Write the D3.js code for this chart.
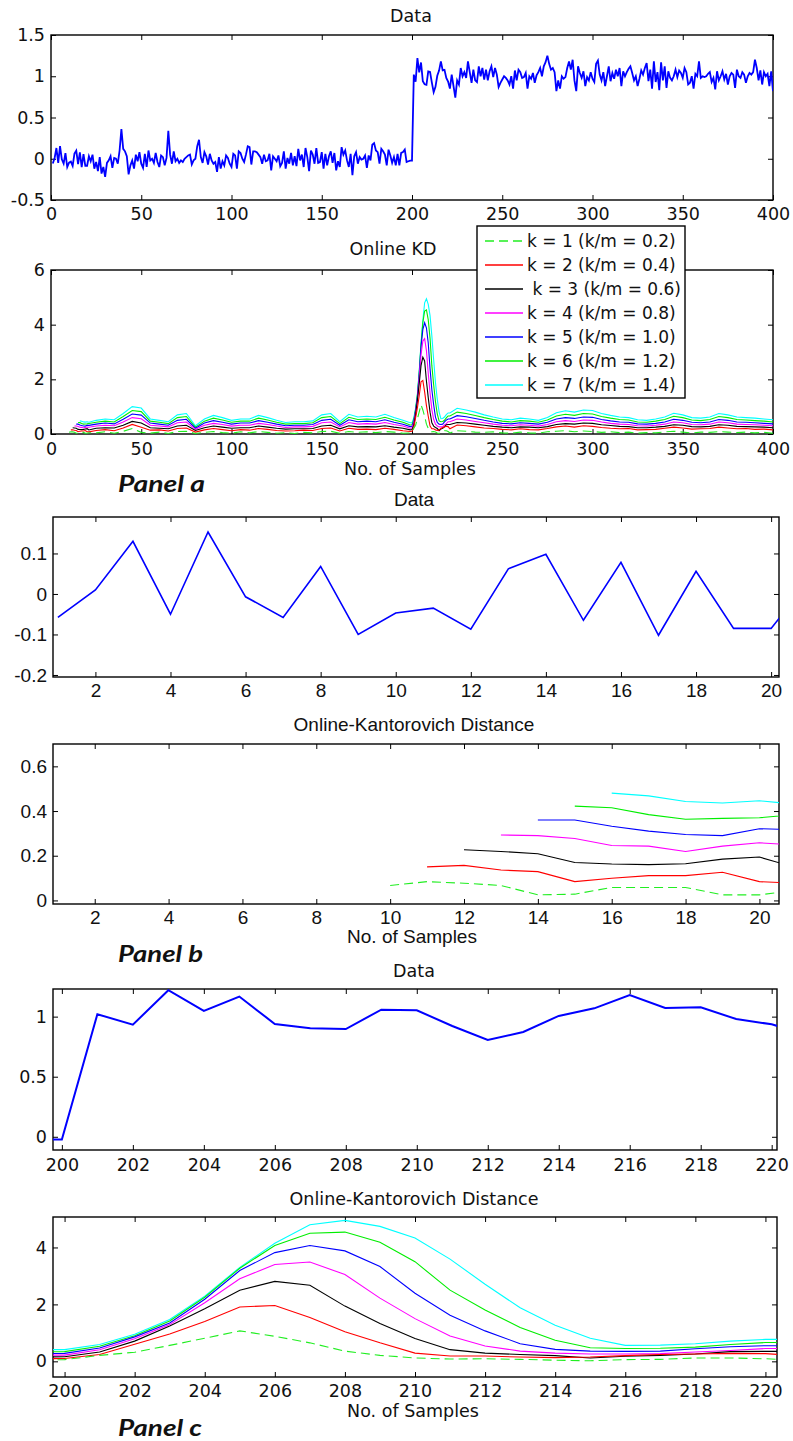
<!DOCTYPE html>
<html>
<head>
<meta charset="utf-8">
<script src="https://cdn.jsdelivr.net/npm/d3@7"></script>
<style>
  body { margin: 0; background: #fff; }
</style>
</head>
<body>
<svg id="svg" width="793" height="1441"></svg>
<script>
// ---------- data ----------
// raw signal, samples 1..21 (zoomed in panel b)
const dataHead = [-0.058,0.010,0.130,-0.050,0.153,-0.007,-0.058,0.068,-0.100,-0.047,-0.035,-0.087,0.062,0.098,-0.065,0.078,-0.102,0.056,-0.085,-0.085,0.032];
// samples 22..198
const dataQuiet = [
  -0.03,0.05,-0.12,-0.04,-0.15,0.02,-0.18,-0.10,-0.22,-0.05,
  -0.02,0.03,-0.11,0.01,0.00,-0.06,0.10,0.36,0.12,0.09,
  0.03,-0.19,-0.08,-0.02,-0.12,0.05,-0.03,0.08,-0.06,-0.11,
  0.06,-0.10,0.10,-0.02,0.00,-0.05,0.07,-0.04,-0.10,0.04,
  0.02,-0.08,0.01,0.34,0.05,-0.06,0.09,-0.03,0.00,-0.05,
  -0.02,-0.04,0.00,0.02,0.04,0.05,-0.07,-0.02,0.00,0.15,
  0.23,0.02,-0.05,0.08,0.03,-0.07,0.06,-0.02,-0.06,-0.04,
  -0.16,0.02,-0.12,-0.03,-0.08,0.04,0.01,-0.06,-0.10,0.06,
  0.04,-0.12,0.09,0.07,0.00,-0.04,0.05,0.15,0.14,-0.07,
  0.09,0.09,0.08,0.05,0.02,-0.06,0.05,-0.03,-0.02,0.06,
  -0.14,0.03,0.00,-0.03,0.04,-0.09,-0.05,0.09,-0.12,0.01,
  -0.06,0.07,-0.08,0.03,-0.09,0.12,-0.02,0.05,-0.10,0.13,
  0.02,-0.15,0.10,0.05,-0.06,0.13,-0.05,-0.04,0.08,-0.12,
  0.06,-0.08,0.03,0.09,-0.05,0.07,-0.14,-0.03,-0.10,0.14,
  0.05,0.10,-0.02,-0.10,0.06,-0.20,0.03,0.08,-0.06,0.02,
  -0.01,0.00,0.04,-0.11,0.04,-0.02,0.17,0.19,0.10,0.08,
  -0.06,0.12,0.09,0.05,-0.08,0.11,0.04,-0.05,0.02,-0.08,
  0.06,-0.08,0.07,0.08,0.11,-0.04,-0.03
];
// samples 199..221 (zoomed in panel c)
const dataJump = [-0.022,-0.022,1.02,0.933,1.22,1.047,1.167,0.939,0.903,0.897,1.058,1.053,0.922,0.806,0.872,1.006,1.069,1.18,1.072,1.078,0.98,0.936,0.85];
// samples 222..400
const dataHigh = [
  1.02,0.88,0.74,0.95,0.90,1.10,1.00,1.05,0.98,1.18,
  1.05,0.92,1.08,0.95,0.93,1.12,1.00,1.10,0.96,1.08,
  0.95,1.06,1.12,0.99,1.10,1.02,0.87,0.92,0.96,1.00,
  0.98,0.95,0.90,1.00,0.85,1.07,0.95,1.08,1.05,0.98,
  0.99,1.04,0.85,1.00,0.97,1.04,0.92,1.01,1.05,1.10,
  1.00,1.12,1.17,1.25,1.15,1.08,1.10,1.05,0.82,0.95,
  0.85,1.00,0.97,0.99,1.10,1.18,1.08,1.20,0.95,0.82,
  1.12,1.04,0.98,1.06,0.88,0.99,0.95,1.05,0.97,0.93,
  1.15,1.19,1.02,0.95,1.05,0.88,1.00,1.12,0.94,1.04,
  0.97,1.08,1.00,1.10,0.88,1.06,1.00,1.05,1.09,1.12,
  1.04,0.95,1.00,0.88,0.97,1.07,1.02,1.10,1.16,0.94,
  1.08,0.85,1.18,0.93,1.05,0.83,1.17,0.95,1.12,0.86,
  1.06,0.98,0.95,1.00,1.08,0.99,1.07,1.04,0.98,1.10,
  1.05,0.90,0.92,1.00,0.85,1.03,1.00,1.18,0.98,1.00,
  0.99,1.00,1.03,1.05,0.93,0.98,0.84,1.06,0.95,1.00,
  1.06,0.96,1.03,0.90,1.00,1.04,1.02,0.86,1.08,1.00,
  0.98,1.05,1.02,0.92,1.00,1.04,1.02,1.05,1.20,1.10,
  0.95,1.07,0.90,1.05,1.00,1.03,0.88,1.06,0.82
];

const kLabels = ['k = 1 (k/m = 0.2)','k = 2 (k/m = 0.4)',' k = 3 (k/m = 0.6)','k = 4 (k/m = 0.8)','k = 5 (k/m = 1.0)','k = 6 (k/m = 1.2)','k = 7 (k/m = 1.4)'];
const kColors = ['#22ee22','#ff0000','#000000','#ff00ff','#0000ff','#00ee00','#00ffff'];
const kDashes = ['9,5',null,null,null,null,null,null];

// Online KD, samples 10..21
const kdEarlyX = d3.range(10, 22);
const kdEarly = [
  [0.067,0.084,0.077,0.067,0.025,0.028,0.058,0.058,0.058,0.025,0.025,0.046],
  [null,0.150,0.157,0.136,0.129,0.084,0.099,0.111,0.111,0.126,0.084,0.077],
  [null,null,0.227,0.219,0.209,0.170,0.163,0.160,0.164,0.185,0.194,0.146],
  [null,null,null,0.293,0.290,0.277,0.246,0.243,0.219,0.243,0.258,0.248],
  [null,null,null,null,0.360,0.360,0.332,0.310,0.295,0.290,0.321,0.316],
  [null,null,null,null,null,0.422,0.415,0.384,0.363,0.367,0.370,0.385],
  [null,null,null,null,null,null,0.480,0.468,0.443,0.436,0.446,0.430]
];
// samples 25..195 every 5
const kdMidX = d3.range(25, 196, 5);
const kdMid = [
  [0.04,0.08,0.03,0.10,0.20,0.06,0.03,0.07,0.02,0.09,0.10,0.02,0.06,0.09,0.05,0.03,0.08,0.04,0.09,0.06,0.03,0.05,0.02,0.06,0.04,0.09,0.10,0.03,0.09,0.06,0.08,0.05,0.09,0.07,0.03],
  [0.13,0.16,0.12,0.22,0.35,0.25,0.14,0.15,0.11,0.20,0.22,0.07,0.15,0.20,0.16,0.12,0.16,0.14,0.20,0.17,0.13,0.11,0.12,0.14,0.13,0.20,0.22,0.11,0.21,0.17,0.18,0.16,0.21,0.17,0.12],
  [0.21,0.23,0.22,0.32,0.46,0.40,0.23,0.21,0.19,0.29,0.32,0.13,0.23,0.29,0.25,0.21,0.23,0.23,0.29,0.25,0.21,0.18,0.19,0.19,0.20,0.29,0.32,0.19,0.30,0.26,0.27,0.26,0.30,0.25,0.21],
  [0.29,0.32,0.30,0.44,0.60,0.56,0.32,0.29,0.26,0.41,0.44,0.17,0.32,0.39,0.35,0.29,0.32,0.32,0.39,0.35,0.29,0.24,0.26,0.26,0.28,0.41,0.44,0.26,0.42,0.36,0.38,0.36,0.42,0.35,0.29],
  [0.36,0.40,0.37,0.54,0.73,0.69,0.40,0.36,0.32,0.50,0.54,0.21,0.40,0.49,0.43,0.36,0.40,0.40,0.49,0.43,0.36,0.30,0.32,0.32,0.35,0.50,0.54,0.32,0.52,0.45,0.47,0.45,0.52,0.43,0.36],
  [0.43,0.47,0.44,0.64,0.86,0.82,0.47,0.43,0.38,0.60,0.64,0.25,0.47,0.58,0.51,0.43,0.47,0.47,0.58,0.51,0.43,0.36,0.38,0.38,0.41,0.60,0.64,0.38,0.61,0.53,0.55,0.53,0.61,0.51,0.43],
  [0.50,0.55,0.52,0.75,1.00,0.95,0.55,0.50,0.45,0.70,0.75,0.30,0.55,0.68,0.60,0.50,0.55,0.55,0.68,0.60,0.50,0.42,0.45,0.45,0.48,0.70,0.75,0.45,0.72,0.62,0.65,0.62,0.72,0.60,0.50]
];
// samples 199..221
const kdPeakX = d3.range(199, 222);
const kdPeak = [
  [0.04,0.06,0.21,0.32,0.56,0.81,1.07,0.88,0.65,0.36,0.21,0.12,0.08,0.09,0.07,0.04,0.02,0.06,0.07,0.12,0.12,0.09,0.04],
  [0.09,0.10,0.24,0.60,0.96,1.40,1.91,1.96,1.54,1.04,0.65,0.29,0.19,0.19,0.15,0.13,0.15,0.20,0.24,0.26,0.28,0.27,0.19],
  [0.15,0.16,0.33,0.71,1.24,1.85,2.50,2.81,2.67,1.94,1.33,0.80,0.41,0.29,0.24,0.20,0.12,0.18,0.21,0.26,0.34,0.35,0.35],
  [0.21,0.22,0.41,0.79,1.29,2.06,2.90,3.40,3.49,3.05,2.22,1.50,0.89,0.54,0.36,0.29,0.26,0.26,0.27,0.33,0.38,0.45,0.45],
  [0.27,0.28,0.47,0.86,1.35,2.18,3.19,3.82,4.07,3.88,3.33,2.39,1.62,1.07,0.62,0.42,0.36,0.35,0.36,0.44,0.51,0.55,0.55],
  [0.33,0.34,0.53,0.90,1.42,2.25,3.27,4.07,4.50,4.54,4.18,3.50,2.50,1.80,1.19,0.74,0.48,0.45,0.46,0.50,0.59,0.66,0.66],
  [0.41,0.41,0.59,0.95,1.47,2.29,3.30,4.15,4.80,4.95,4.74,4.33,3.59,2.71,1.88,1.27,0.81,0.56,0.57,0.62,0.71,0.77,0.77]
];
// samples 225..400 every 5
const kdLateX = d3.range(225, 401, 5);
const kdLate = [
  [0.12,0.10,0.07,0.06,0.08,0.04,0.03,0.07,0.04,0.03,0.08,0.10,0.12,0.08,0.11,0.09,0.06,0.08,0.05,0.07,0.03,0.05,0.04,0.08,0.10,0.07,0.04,0.07,0.06,0.09,0.07,0.05,0.07,0.04,0.06,0.03],
  [0.33,0.30,0.26,0.22,0.20,0.17,0.15,0.19,0.16,0.15,0.20,0.26,0.29,0.25,0.30,0.28,0.24,0.21,0.19,0.20,0.15,0.16,0.17,0.21,0.25,0.22,0.18,0.19,0.20,0.25,0.22,0.19,0.20,0.17,0.18,0.15],
  [0.42,0.40,0.36,0.32,0.28,0.25,0.23,0.26,0.25,0.23,0.27,0.35,0.38,0.36,0.40,0.39,0.34,0.31,0.28,0.27,0.23,0.23,0.25,0.28,0.34,0.32,0.27,0.26,0.28,0.34,0.32,0.28,0.27,0.26,0.25,0.23],
  [0.55,0.51,0.46,0.41,0.36,0.32,0.30,0.34,0.32,0.29,0.35,0.45,0.49,0.46,0.51,0.50,0.44,0.39,0.36,0.35,0.30,0.29,0.32,0.36,0.44,0.41,0.35,0.34,0.36,0.44,0.41,0.36,0.35,0.34,0.32,0.30],
  [0.67,0.63,0.57,0.50,0.44,0.39,0.37,0.41,0.39,0.36,0.43,0.55,0.60,0.57,0.62,0.61,0.53,0.48,0.44,0.43,0.37,0.36,0.39,0.44,0.54,0.50,0.43,0.41,0.44,0.53,0.50,0.44,0.43,0.41,0.39,0.37],
  [0.80,0.75,0.68,0.60,0.53,0.47,0.44,0.49,0.47,0.43,0.51,0.66,0.72,0.68,0.75,0.73,0.64,0.58,0.53,0.51,0.44,0.43,0.47,0.53,0.65,0.60,0.51,0.49,0.53,0.64,0.60,0.53,0.51,0.49,0.47,0.44],
  [0.94,0.88,0.80,0.70,0.62,0.55,0.52,0.58,0.55,0.50,0.60,0.78,0.85,0.80,0.88,0.86,0.75,0.68,0.62,0.60,0.52,0.50,0.55,0.62,0.76,0.70,0.60,0.58,0.62,0.75,0.70,0.62,0.60,0.58,0.55,0.52]
];

// ---------- helpers ----------
const svg = d3.select('#svg');
const wide = 'DejaVu Sans';
const narrow = '"Liberation Sans", sans-serif';
const fmt = d => String(d);

function pts(xs, vs) {
  return xs.map((x, i) => ({x: x, v: vs[i]}));
}

function panel(p) {
  const x = d3.scaleLinear().domain(p.xd).range([p.x0, p.x1]);
  const y = d3.scaleLinear().domain(p.yd).range([p.y1, p.y0]);
  const g = svg.append('g');

  svg.append('clipPath').attr('id', 'clip' + p.id)
    .append('rect')
    .attr('x', p.x0).attr('y', p.y0)
    .attr('width', p.x1 - p.x0).attr('height', p.y1 - p.y0);

  const bottom = g.append('g')
    .attr('transform', `translate(0,${p.y1})`)
    .call(d3.axisBottom(x).tickValues(p.xt).tickSize(-5).tickSizeOuter(0).tickFormat(fmt));
  bottom.selectAll('text').attr('dy', null).attr('y', p.xlabY - p.y1);

  g.append('g')
    .attr('transform', `translate(0,${p.y0})`)
    .call(d3.axisTop(x).tickValues(p.xt).tickSize(-5).tickSizeOuter(0).tickFormat(''));

  g.append('g')
    .attr('transform', `translate(${p.x0},0)`)
    .call(d3.axisLeft(y).tickValues(p.yt).tickSize(-5).tickSizeOuter(0).tickPadding(6).tickFormat(fmt));

  g.append('g')
    .attr('transform', `translate(${p.x1},0)`)
    .call(d3.axisRight(y).tickValues(p.yt).tickSize(-5).tickSizeOuter(0).tickFormat(''));

  g.selectAll('.domain').remove();
  g.selectAll('.tick line').attr('stroke', '#000').attr('stroke-width', 1);
  g.selectAll('text')
    .attr('font-family', p.font)
    .attr('font-size', p.fs)
    .attr('fill', '#111');

  g.append('rect')
    .attr('x', p.x0).attr('y', p.y0)
    .attr('width', p.x1 - p.x0).attr('height', p.y1 - p.y0)
    .attr('fill', 'none').attr('stroke', '#000').attr('stroke-width', 1.4);

  svg.append('text')
    .attr('x', p.titleX).attr('y', p.titleY)
    .attr('text-anchor', 'middle')
    .attr('font-family', p.font).attr('font-size', p.tfs)
    .attr('fill', '#111')
    .text(p.title);

  if (p.xlabel) {
    svg.append('text')
      .attr('x', p.xlabelX).attr('y', p.xlabelY)
      .attr('text-anchor', 'middle')
      .attr('font-family', p.font).attr('font-size', p.tfs)
      .attr('fill', '#111')
      .text(p.xlabel);
  }

  const lines = svg.append('g').attr('clip-path', `url(#clip${p.id})`);
  const line = d3.line()
    .defined(d => d.v !== null)
    .x(d => x(d.x))
    .y(d => y(d.v));
  return {x, y, lines, line};
}

function kdLines(ax, seriesList) {
  // draw k = 7 first so the lower curves stay on top like the original
  d3.range(6, -1, -1).forEach(k => {
    ax.lines.append('path')
      .datum(seriesList[k])
      .attr('fill', 'none')
      .attr('stroke', kColors[k])
      .attr('stroke-width', 1.1)
      .attr('stroke-dasharray', kDashes[k])
      .attr('d', ax.line);
  });
}

function panelTag(txt, yBase, len) {
  svg.append('text')
    .attr('x', 118).attr('y', yBase)
    .attr('font-family', 'Lato')
    .attr('font-weight', 700)
    .attr('font-style', 'italic')
    .attr('font-size', 23)
    .attr('textLength', len)
    .attr('lengthAdjust', 'spacingAndGlyphs')
    .attr('fill', '#111')
    .text(txt);
}

// ---------- panel a ----------
const dataAll = dataHead.concat(dataQuiet, dataJump, dataHigh);
const dataX = d3.range(1, dataAll.length + 1);

const a1 = panel({
  id: 'a1', x0: 51, x1: 773, y0: 35, y1: 200,
  xd: [0, 400], yd: [-0.5, 1.5],
  xt: d3.range(0, 401, 50), yt: [-0.5, 0, 0.5, 1, 1.5],
  font: wide, fs: 17.5, tfs: 17.5, xlabY: 219.5,
  title: 'Data', titleX: 411, titleY: 21.5
});
a1.lines.append('path')
  .datum(pts(dataX, dataAll))
  .attr('fill', 'none').attr('stroke', '#0000ff').attr('stroke-width', 1.8)
  .attr('d', a1.line);

const a2 = panel({
  id: 'a2', x0: 51, x1: 773, y0: 270, y1: 434,
  xd: [0, 400], yd: [0, 6],
  xt: d3.range(0, 401, 50), yt: [0, 2, 4, 6],
  font: wide, fs: 17.5, tfs: 17.5, xlabY: 455,
  title: 'Online KD', titleX: 393, titleY: 255,
  xlabel: 'No. of Samples', xlabelX: 410, xlabelY: 475
});
const kdX = kdEarlyX.concat(kdMidX, kdPeakX, kdLateX);
kdLines(a2, d3.range(7).map(k => pts(kdX, kdEarly[k].concat(kdMid[k], kdPeak[k], kdLate[k]))));
panelTag('Panel a', 492, 87);

// legend
const leg = svg.append('g');
leg.append('rect')
  .attr('x', 477).attr('y', 226).attr('width', 208).attr('height', 172)
  .attr('fill', '#fff').attr('stroke', '#000').attr('stroke-width', 1.4);
kLabels.forEach((lab, k) => {
  const ly = 241 + k * 24;
  leg.append('line')
    .attr('x1', 485).attr('x2', 523).attr('y1', ly).attr('y2', ly)
    .attr('stroke', kColors[k]).attr('stroke-width', 1.3)
    .attr('stroke-dasharray', kDashes[k]);
  leg.append('text')
    .attr('x', 527).attr('y', ly + 6)
    .attr('font-family', wide).attr('font-size', 17)
    .attr('fill', '#111')
    .style('white-space', 'pre')
    .text(lab);
});

// ---------- panel b ----------
const b1 = panel({
  id: 'b1', x0: 53, x1: 779, y0: 517, y1: 677,
  xd: [0.87, 20.21], yd: [-0.205, 0.19],
  xt: d3.range(2, 21, 2), yt: [-0.2, -0.1, 0, 0.1],
  font: narrow, fs: 19, tfs: 19, xlabY: 697,
  title: 'Data', titleX: 414, titleY: 506
});
b1.lines.append('path')
  .datum(pts(d3.range(1, 22), dataHead))
  .attr('fill', 'none').attr('stroke', '#0000ff').attr('stroke-width', 1.6)
  .attr('d', b1.line);

const b2 = panel({
  id: 'b2', x0: 53, x1: 779, y0: 744, y1: 904,
  xd: [0.87, 20.53], yd: [-0.016, 0.70],
  xt: d3.range(2, 21, 2), yt: [0, 0.2, 0.4, 0.6],
  font: narrow, fs: 19, tfs: 19, xlabY: 924,
  title: 'Online-Kantorovich Distance', titleX: 414, titleY: 731,
  xlabel: 'No. of Samples', xlabelX: 412, xlabelY: 943
});
kdLines(b2, d3.range(7).map(k => pts(kdEarlyX, kdEarly[k])));
panelTag('Panel b', 962, 85);

// ---------- panel c ----------
const c1 = panel({
  id: 'c1', x0: 53, x1: 777, y0: 989, y1: 1150,
  xd: [199.75, 220.15], yd: [-0.11, 1.23],
  xt: d3.range(200, 221, 2), yt: [0, 0.5, 1],
  font: wide, fs: 17.5, tfs: 17.5, xlabY: 1170.5,
  title: 'Data', titleX: 414, titleY: 976.5
});
c1.lines.append('path')
  .datum(pts(d3.range(199, 222), dataJump))
  .attr('fill', 'none').attr('stroke', '#0000ff').attr('stroke-width', 2)
  .attr('d', c1.line);

const c2 = panel({
  id: 'c2', x0: 53, x1: 777, y0: 1217, y1: 1377,
  xd: [199.67, 220.33], yd: [-0.55, 5.07],
  xt: d3.range(200, 221, 2), yt: [0, 2, 4],
  font: wide, fs: 17.5, tfs: 17.5, xlabY: 1397,
  title: 'Online-Kantorovich Distance', titleX: 414, titleY: 1205,
  xlabel: 'No. of Samples', xlabelX: 413, xlabelY: 1417
});
kdLines(c2, d3.range(7).map(k => pts(kdPeakX, kdPeak[k])));
panelTag('Panel c', 1436, 84);
</script>
</body>
</html>
